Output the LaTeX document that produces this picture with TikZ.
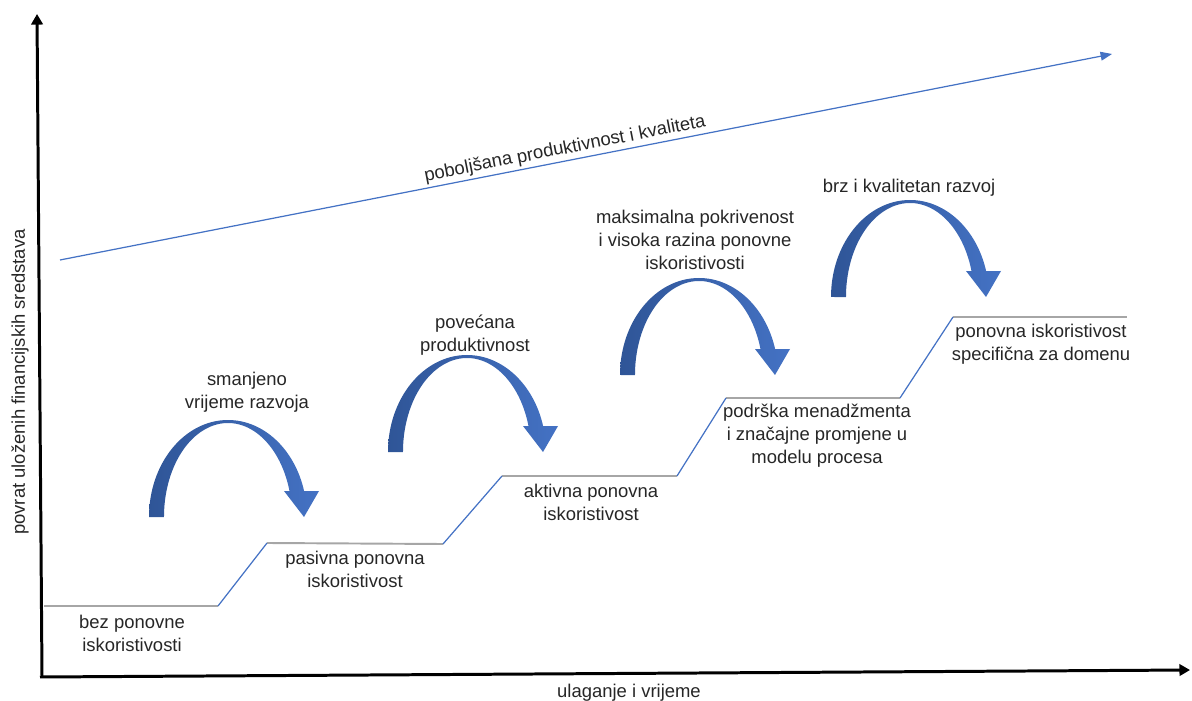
\documentclass[tikz,border=0pt]{standalone}
\usepackage{fontspec}
\setmainfont{Liberation Sans}
\usetikzlibrary{arrows.meta}
\definecolor{lineblue}{HTML}{4472C4}
\definecolor{arrdark}{HTML}{2F5597}
\definecolor{arrlight}{HTML}{4472C4}
\definecolor{stepgray}{HTML}{A6A6A6}
\definecolor{txtcol}{HTML}{262626}
\tikzset{
  lbl/.style={align=center, text=txtcol, font=\fontsize{10.5}{13}\selectfont, inner sep=0pt},
  axisline/.style={line width=1.7pt, -{Triangle[length=6pt,width=6.5pt]}},
  trendline/.style={draw=lineblue, line width=0.7pt, -{Triangle[length=6.5pt,width=5pt]}},
  flatpart/.style={draw=stepgray, line width=1.1pt},
  risepart/.style={draw=lineblue, line width=0.7pt},
  curvarrow/.pic={
    \shade[left color=arrdark, right color=arrlight]
      (0,0) arc[start angle=180, end angle=15.5, x radius=79, y radius=97]
      -- (170,26) -- (155,0) -- (135,26) -- (140.5,25.9)
      arc[start angle=16, end angle=180, x radius=64, y radius=94] -- cycle;
  }
}
\begin{document}
\begin{tikzpicture}[x=0.02cm, y=0.02cm]
\useasboundingbox (0,0) rectangle (1192,700);
% axes
\coordinate (yb) at (42,24);
\coordinate (yt) at (37,686);
\coordinate (xl) at (40,23);
\coordinate (xr) at (1190,30);
\draw[axisline] (yb) -- (yt);
\draw[axisline] (xl) -- (xr);
\node[lbl, rotate=90] (ylab) at (20,318) {povrat uloženih financijskih sredstava};
\node[lbl] (xlab) at (629,7) {ulaganje i vrijeme};
% trend line
\coordinate (ta) at (60,440);
\coordinate (tb) at (1112,646);
\draw[trendline] (ta) -- (tb);
\node[lbl, rotate=11.05] (trend) at (565,551) {poboljšana produktivnost i kvaliteta};
% steps
\coordinate (s1a) at (44,94);
\coordinate (s1b) at (218,94);
\coordinate (s2a) at (267,157);
\coordinate (s2b) at (443,156);
\coordinate (s3a) at (502,224);
\coordinate (s3b) at (677,224);
\coordinate (s4a) at (726,302);
\coordinate (s4b) at (900,302);
\coordinate (s5a) at (953,383);
\coordinate (s5b) at (1127,383);
\draw[flatpart] (s1a) -- (s1b);
\draw[flatpart] (s2a) -- (s2b);
\draw[flatpart] (s3a) -- (s3b);
\draw[flatpart] (s4a) -- (s4b);
\draw[flatpart] (s5a) -- (s5b);
\draw[risepart] (s1b) -- (s2a);
\draw[risepart] (s2b) -- (s3a);
\draw[risepart] (s3b) -- (s4a);
\draw[risepart] (s4b) -- (s5a);
% step labels
\node[lbl] (l1) at (132,67) {bez ponovne\\iskoristivosti};
\node[lbl] (l2) at (355,131) {pasivna ponovna\\iskoristivost};
\node[lbl] (l3) at (591,198) {aktivna ponovna\\iskoristivost};
\node[lbl] (l4) at (817,264) {podrška menadžmenta\\i značajne promjene u\\modelu procesa};
\node[lbl] (l5) at (1041,356) {ponovna iskoristivost\\specifična za domenu};
% curved arrows
\pic at (149,183) {curvarrow};
\pic at (388,248) {curvarrow};
\pic at (620,325) {curvarrow};
\pic at (831,403) {curvarrow};
% benefit labels
\node[lbl] (b1) at (247,308) {smanjeno\\vrijeme razvoja};
\node[lbl] (b2) at (475,365) {povećana\\produktivnost};
\node[lbl] (b3) at (695,460) {maksimalna pokrivenost\\i visoka razina ponovne\\iskoristivosti};
\node[lbl] (b4) at (909,512) {brz i kvalitetan razvoj};
\end{tikzpicture}
\end{document}
